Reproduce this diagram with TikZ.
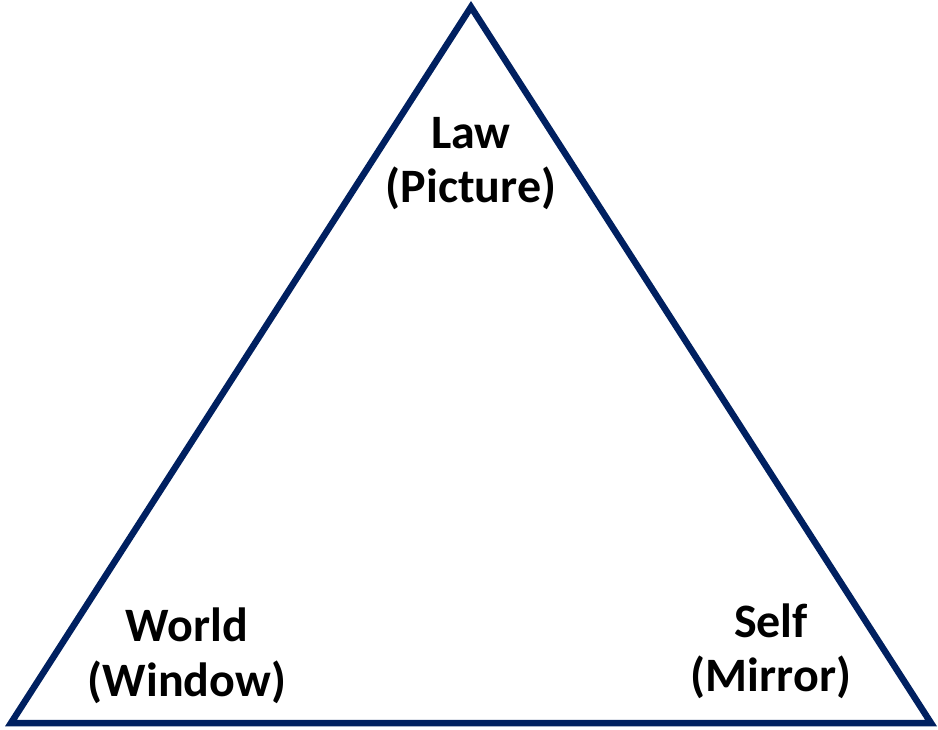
\documentclass[tikz,border=0pt]{standalone}
\usepackage{fontspec}
\setmainfont{Carlito}
\definecolor{navy}{HTML}{002060}
\begin{document}
\begin{tikzpicture}[x=1pt,y=-1pt,
  lbl/.style={anchor=base,inner sep=0pt,font=\bfseries\fontsize{48}{57}\selectfont,text=black}]
\useasboundingbox (0,0) rectangle (938,729);
\coordinate (apex) at (471,7);
\coordinate (bl) at (11,723);
\coordinate (br) at (931,723);
\draw[navy,line width=6.5pt,line join=miter] (apex) -- (br) -- (bl) -- cycle;
\node[lbl] (law) at (471,148) {Law};
\node[lbl] (pic) at (471,202) {(Picture)};
\node[lbl] (world) at (187,641) {World};
\node[lbl] (window) at (187,696) {(Window)};
\node[lbl] (self) at (771,637) {Self};
\node[lbl] (mirror) at (771,691) {(Mirror)};
\end{tikzpicture}
\end{document}
